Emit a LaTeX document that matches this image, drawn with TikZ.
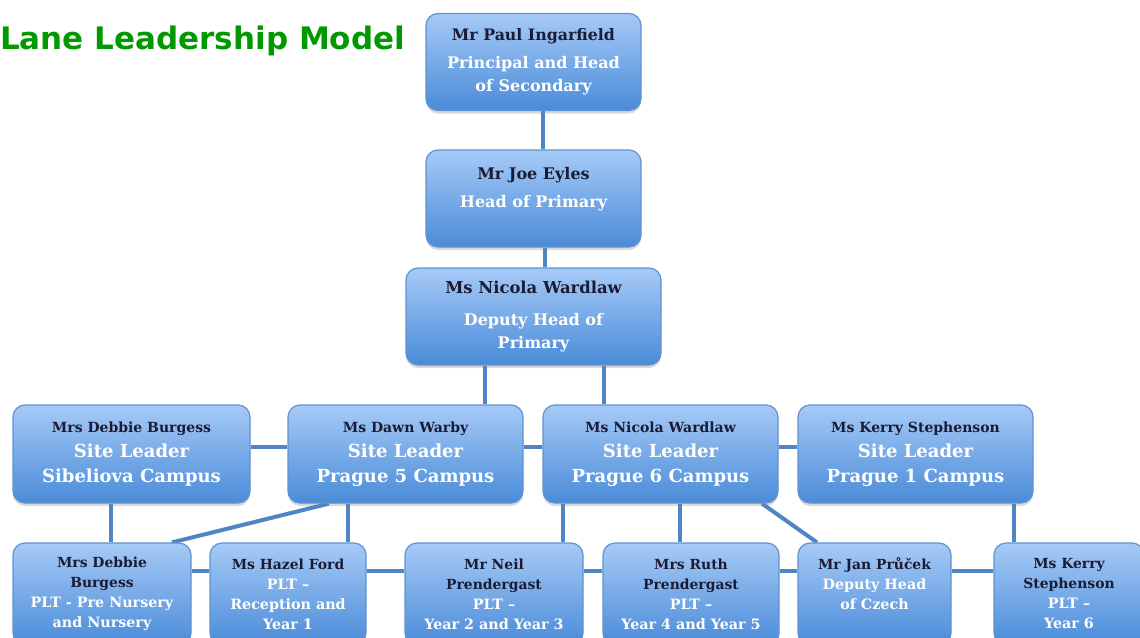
\documentclass[tikz,border=0pt]{standalone}
\usepackage{fontspec}
\setmainfont{DejaVu Serif}
\newfontfamily\titlefont{DejaVu Sans}
\usetikzlibrary{shadows,backgrounds}

\definecolor{boxtop}{HTML}{A6CAF7}
\definecolor{boxbot}{HTML}{4A8BD8}
\definecolor{boxedge}{HTML}{5F93D0}
\definecolor{linkblue}{HTML}{4F85C4}
\definecolor{namecol}{HTML}{1B1B33}
\definecolor{titlegreen}{HTML}{009A00}

% name line and role lines
\newcommand{\who}[2][14]{{\fontsize{#1}{#1}\selectfont\color{namecol}#2}}
\newcommand{\role}[1]{{\color{white}#1}}

\tikzset{
  box/.style={draw=boxedge, line width=1.2pt, rounded corners=12pt,
    top color=boxtop, bottom color=boxbot, align=center, inner sep=0pt,
    font=\bfseries,
    drop shadow={opacity=0.3, shadow xshift=0pt, shadow yshift=-3pt}},
  topbox/.style={box, minimum width=215pt, minimum height=97pt,
    font=\bfseries\fontsize{16}{23}\selectfont},
  sitebox/.style={box, minimum width=235pt, minimum height=98pt,
    font=\bfseries\fontsize{18}{25}\selectfont},
  pltbox/.style={box, minimum height=102pt,
    font=\bfseries\fontsize{14.3}{20}\selectfont},
  link/.style={draw=linkblue, line width=4pt},
}

\begin{document}
\begin{tikzpicture}[x=1pt,y=-1pt]
  \useasboundingbox (0,0) rectangle (1140,637);

  \node[anchor=west, inner sep=0pt, text=titlegreen,
        font=\titlefont\bfseries\fontsize{31}{31}\selectfont] (title) at (0,41) {Lane Leadership Model};

  % top of the tree
  \node[topbox] (principal) at (533.5,62) {\who[15.8]{Mr Paul Ingarfield}\\[5pt]\role{Principal and Head}\\\role{of Secondary}};
  \node[topbox] (primary) at (533.5,198.5) {\who[16]{Mr Joe Eyles}\\[5pt]\role{Head of Primary}\\\mbox{}};
  \node[topbox, minimum width=255pt] (deputy) at (533.5,316.5) {\who[16.4]{Ms Nicola Wardlaw}\\[9pt]\role{Deputy Head of}\\\role{Primary}};

  % site leaders
  \node[sitebox, minimum width=237pt] (sib) at (131.5,454) {\who{Mrs Debbie Burgess}\\\role{Site Leader}\\\role{Sibeliova Campus}};
  \node[sitebox] (pfive) at (405.5,454) {\who{Ms Dawn Warby}\\\role{Site Leader}\\\role{Prague 5 Campus}};
  \node[sitebox] (psix) at (660.5,454) {\who{Ms Nicola Wardlaw}\\\role{Site Leader}\\\role{Prague 6 Campus}};
  \node[sitebox] (pone) at (915.5,454) {\who{Ms Kerry Stephenson}\\\role{Site Leader}\\\role{Prague 1 Campus}};

  % phase leaders
  \node[pltbox, minimum width=178pt] (nursery) at (102,594) {\who[13.9]{Mrs Debbie}\\\who[13.9]{Burgess}\\\role{PLT - Pre Nursery}\\\role{and Nursery}};
  \node[pltbox, minimum width=156pt] (reception) at (288,594) {\who[13.9]{Ms Hazel Ford}\\\role{PLT –}\\\role{Reception and}\\\role{Year 1}};
  \node[pltbox, minimum width=178pt] (yrtwo) at (494,594) {\who[13.9]{Mr Neil}\\\who[13.9]{Prendergast}\\\role{PLT –}\\\role{Year 2 and Year 3}};
  \node[pltbox, minimum width=176pt] (yrfour) at (691,594) {\who[13.9]{Mrs Ruth}\\\who[13.9]{Prendergast}\\\role{PLT –}\\\role{Year 4 and Year 5}};
  \node[pltbox, minimum width=153pt] (czech) at (874.5,594) {\who[13.9]{Mr Jan Průček}\\\role{Deputy Head}\\\role{of Czech}\\\mbox{}};
  \node[pltbox, minimum width=150pt] (yrsix) at (1069,594) {\who[13.9]{Ms Kerry}\\\who[13.9]{Stephenson}\\\role{PLT –}\\\role{Year 6}};

  \begin{pgfonlayer}{background}
    \draw[link] ([xshift=9.5pt]principal.south) -- ([xshift=9.5pt]primary.north);
    \draw[link] ([xshift=11.5pt]primary.south) -- ([xshift=11.5pt]deputy.north);
    \draw[link] ([xshift=-48.5pt]deputy.south) -- ([xshift=79.5pt]pfive.north);
    \draw[link] ([xshift=70.5pt]deputy.south) -- ([xshift=-56.5pt]psix.north);
    % rows
    \draw[link] ([yshift=7pt]sib.east) -- ([yshift=7pt]pfive.west);
    \draw[link] ([yshift=7pt]pfive.east) -- ([yshift=7pt]psix.west);
    \draw[link] ([yshift=7pt]psix.east) -- ([yshift=7pt]pone.west);
    \draw[link] ([yshift=23pt]nursery.east) -- ([yshift=23pt]reception.west);
    \draw[link] ([yshift=23pt]reception.east) -- ([yshift=23pt]yrtwo.west);
    \draw[link] ([yshift=23pt]yrtwo.east) -- ([yshift=23pt]yrfour.west);
    \draw[link] ([yshift=23pt]yrfour.east) -- ([yshift=23pt]czech.west);
    \draw[link] ([yshift=23pt]czech.east) -- ([yshift=23pt]yrsix.west);
    % site leaders down to phase leaders
    \draw[link] ([xshift=-20.5pt]sib.south) -- ([xshift=9pt]nursery.north);
    \draw[link] ([xshift=-76.5pt]pfive.south) -- ([xshift=70pt]nursery.north);
    \draw[link] ([xshift=-57.5pt]pfive.south) -- ([xshift=60pt]reception.north);
    \draw[link] ([xshift=-97.5pt]psix.south) -- ([xshift=69pt]yrtwo.north);
    \draw[link] ([xshift=19.5pt]psix.south) -- ([xshift=-11pt]yrfour.north);
    \draw[link] ([xshift=101.5pt]psix.south) -- ([xshift=-57.5pt]czech.north);
    \draw[link] ([xshift=98.5pt]pone.south) -- ([xshift=-55pt]yrsix.north);
  \end{pgfonlayer}
\end{tikzpicture}
\end{document}
